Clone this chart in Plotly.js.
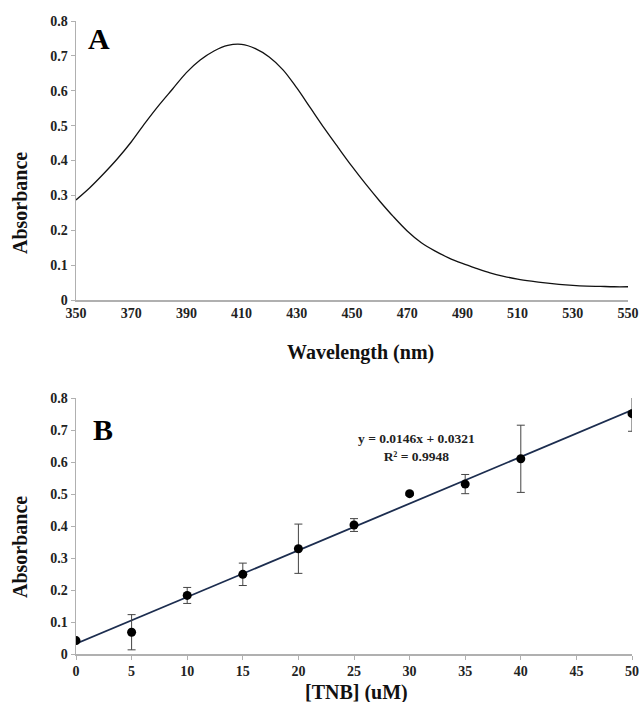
<!DOCTYPE html>
<html>
<head>
<meta charset="utf-8">
<script src="https://cdn.plot.ly/plotly-3.0.1.min.js"></script>
<style>html,body{margin:0;padding:0;background:#fff;}#chart{width:639px;height:702px;}</style>
</head>
<body>
<div id="chart"></div>
<script>
// Panel A: absorption spectrum
const wavelength = [350,355,360,365,370,375,380,385,390,395,400,405,410,415,420,425,430,435,440,445,450,455,460,465,470,475,480,485,490,495,500,505,510,515,520,525,530,535,540,545,550];
const absorbanceA = [0.287,0.322,0.362,0.405,0.453,0.507,0.558,0.605,0.652,0.688,0.714,0.730,0.733,0.721,0.697,0.660,0.608,0.550,0.492,0.437,0.383,0.332,0.284,0.239,0.198,0.165,0.141,0.121,0.105,0.091,0.078,0.068,0.060,0.054,0.049,0.045,0.042,0.040,0.039,0.038,0.038];
const xTicksA = [350,370,390,410,430,450,470,490,510,530,550];

// Panel B: calibration
const tnb = [0,5,10,15,20,25,30,35,40,50];
const absorbanceB = [0.042,0.068,0.183,0.249,0.329,0.403,0.501,0.531,0.610,0.751];
const errorB = [0.004,0.055,0.025,0.035,0.077,0.020,0.005,0.030,0.105,0.055];
const fitSlope = 0.0146;
const fitIntercept = 0.0321;
const fitR2 = 0.9948;
const fitX = [0, 50];
const fitY = fitX.map(x => fitSlope * x + fitIntercept);

const serif = "'Liberation Serif', serif";
const axisColor = "#b0b0b0";
const tickFont = {family: serif, size: 14, color: "#222", weight: "bold"};
const titleFont = {family: serif, size: 20, color: "#111", weight: "bold"};

const traces = [
  {x: wavelength, y: absorbanceA, type: "scatter", mode: "lines", line: {color: "#111", width: 1.3, shape: "spline"}, xaxis: "x", yaxis: "y"},
  {x: fitX, y: fitY, type: "scatter", mode: "lines", line: {color: "#1c2d4f", width: 1.8}, xaxis: "x2", yaxis: "y2"},
  {x: tnb, y: absorbanceB, type: "scatter", mode: "markers", marker: {color: "#000", size: 9},
   error_y: {type: "data", array: errorB, visible: true, color: "#444", thickness: 1, width: 4},
   xaxis: "x2", yaxis: "y2"}
];

const commonAxis = {
  showline: true, linecolor: axisColor, linewidth: 1.5, showgrid: false, zeroline: false,
  ticks: "outside", ticklen: 4, tickcolor: axisColor, tickfont: tickFont, automargin: false
};

function axisTitle(text, x, y, angle) {
  return {text: text, xref: "paper", yref: "paper", x: x, y: y, showarrow: false,
          xanchor: "center", yanchor: "middle", textangle: angle, font: titleFont};
}

const layout = {
  width: 639, height: 702,
  margin: {l: 0, r: 0, t: 0, b: 0},
  paper_bgcolor: "#fff", plot_bgcolor: "#fff",
  showlegend: false,
  xaxis: Object.assign({}, commonAxis, {
    domain: [76/639, 628/639], anchor: "y", range: [350, 550], tickvals: xTicksA, ticks: ""
  }),
  yaxis: Object.assign({}, commonAxis, {
    domain: [1 - 300/702, 1 - 21/702], anchor: "x", range: [0, 0.8], dtick: 0.1, tickformat: "~g"
  }),
  xaxis2: Object.assign({}, commonAxis, {
    domain: [76/639, 632/639], anchor: "y2", range: [0, 50], dtick: 5
  }),
  yaxis2: Object.assign({}, commonAxis, {
    domain: [1 - 654/702, 1 - 398/702], anchor: "x2", range: [0, 0.8], dtick: 0.1, tickformat: "~g"
  }),
  annotations: [
    axisTitle("Wavelength (nm)", 360/639, 1 - 352/702, 0),
    axisTitle("Absorbance", 20/639, 1 - 203/702, -90),
    axisTitle("[TNB] (uM)", 356/639, 1 - 692/702, 0),
    axisTitle("Absorbance", 20/639, 1 - 547/702, -90),
    {text: "A", xref: "x", yref: "y", x: 358.4, y: 0.751, showarrow: false, xanchor: "center", yanchor: "middle",
     font: {family: serif, size: 30, color: "#000", weight: "bold"}},
    {text: "B", xref: "x2", yref: "y2", x: 2.4, y: 0.70, showarrow: false, xanchor: "center", yanchor: "middle",
     font: {family: serif, size: 30, color: "#000", weight: "bold"}},
    {text: "y = " + fitSlope + "x + " + fitIntercept + "<br>R² = " + fitR2, xref: "x2", yref: "y2", x: 30.6, y: 0.645,
     showarrow: false, xanchor: "center", yanchor: "middle", align: "center",
     font: {family: serif, size: 13.5, color: "#222", weight: "bold"}}
  ]
};

Plotly.newPlot("chart", traces, layout, {staticPlot: true, displayModeBar: false});
</script>
</body>
</html>
